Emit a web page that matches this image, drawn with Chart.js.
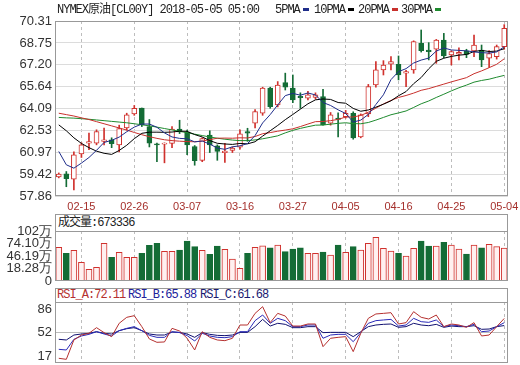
<!DOCTYPE html>
<html>
<head>
<meta charset="utf-8">
<script src="https://cdn.jsdelivr.net/npm/chart.js@4.4.1/dist/chart.umd.min.js"></script>
<style>
body{margin:0;background:#fff;}
#wrap{position:relative;width:520px;height:365px;overflow:hidden;background:#fff;}
canvas{position:absolute;left:0;}
.t{position:absolute;white-space:nowrap;font-size:12px;line-height:14px;font-family:"Liberation Mono","Noto Sans CJK SC",monospace;letter-spacing:-1px;color:#222;}
.lg{letter-spacing:-1px;}
.box{position:absolute;left:55px;width:453px;border:1px solid #999;box-sizing:border-box;background:#fff;}
.dash{display:inline-block;width:6px;height:3px;vertical-align:middle;margin-left:3px;}
</style>
</head>
<body>
<div id="wrap">
  <canvas id="main" width="520" height="215" style="top:0"></canvas>
  <canvas id="vol" width="520" height="80" style="top:205px"></canvas>
  <canvas id="rsi" width="520" height="83" style="top:282px"></canvas>

  <div class="t" style="left:57px;top:3px">NYMEX原油[CL00Y] 2018-05-05 05:00</div>
  <div class="t lg" style="left:275px;top:3px">5PMA<span class="dash" style="background:#1f2d8a"></span></div>
  <div class="t lg" style="left:314px;top:3px">10PMA<span class="dash" style="background:#000"></span></div>
  <div class="t lg" style="left:358px;top:3px">20PMA<span class="dash" style="background:#c8302c"></span></div>
  <div class="t lg" style="left:401px;top:3px">30PMA<span class="dash" style="background:#1e8a2e"></span></div>

  <div class="box" style="top:214px;height:18px">
    <span class="t" style="left:2px;top:1px">成交量:673336</span>
  </div>
  <div class="box" style="top:288px;height:15px">
    <span class="t" style="left:1px;top:-1px;color:#b5302f">RSI_A:72.11</span>
    <span class="t" style="left:72px;top:-1px;color:#20209a">RSI_B:65.88</span>
    <span class="t" style="left:144px;top:-1px;color:#1a1a70">RSI_C:61.68</span>
  </div>
</div>
<script>
// trading days 02-12 .. 05-04
const dates = ['02-12','02-13','02-14','02-15','02-16','02-19','02-20','02-21','02-22','02-23','02-26','02-27','02-28',
  '03-01','03-02','03-05','03-06','03-07','03-08','03-09','03-12','03-13','03-14','03-15','03-16','03-19','03-20','03-21','03-22','03-23','03-26','03-27','03-28','03-29','03-30',
  '04-02','04-03','04-04','04-05','04-06','04-09','04-10','04-11','04-12','04-13','04-16','04-17','04-18','04-19','04-20','04-23','04-24','04-25','04-26','04-27','04-30',
  '05-01','05-02','05-03','05-04'];
const tickDates = ['02-15','02-26','03-07','03-16','03-27','04-05','04-16','04-25','05-04'];

const opens  = [59.21,59.44,59.06,60.86,61.62,61.62,61.75,61.85,61.50,62.70,63.70,64.12,62.80,61.57,61.55,61.60,62.62,62.40,61.38,60.40,
  62.20,61.43,60.95,61.10,61.34,62.45,63.04,63.75,65.53,64.34,65.93,65.53,64.95,64.82,64.88,64.94,63.04,63.40,63.50,63.75,
  62.07,63.70,65.76,66.83,67.23,67.23,66.59,66.83,68.72,68.25,68.30,68.96,67.89,67.95,68.18,68.18,68.25,67.66,67.78,68.49];
const highs  = [59.50,59.60,61.00,61.65,62.33,62.57,62.69,62.00,62.90,63.75,64.30,64.12,63.30,61.62,61.64,62.80,63.25,62.55,61.45,62.00,
  62.50,61.50,61.60,61.35,62.57,62.68,64.00,65.60,65.60,66.00,66.60,66.47,65.20,65.30,65.20,65.45,63.80,63.77,63.95,63.85,
  63.70,65.80,67.42,67.49,67.78,67.82,66.80,68.90,69.67,68.77,69.00,69.43,68.20,68.40,68.30,69.30,68.60,68.20,68.60,70.05];
const lows   = [59.15,58.52,58.30,60.60,61.15,61.50,61.50,61.30,61.00,62.55,63.60,62.80,61.35,60.31,60.22,61.30,62.30,60.80,60.05,60.30,
  60.95,60.40,60.25,60.95,61.20,61.75,62.70,63.60,64.10,64.20,65.40,64.50,64.10,64.70,64.75,62.90,62.90,62.07,63.40,61.90,
  62.00,63.50,65.60,66.47,66.83,66.12,65.64,66.59,68.10,67.54,67.30,67.70,67.18,67.54,67.70,67.78,67.06,67.00,67.60,68.30];
const closes = [59.42,59.09,60.79,61.50,61.74,62.45,61.85,61.58,62.65,63.63,64.10,62.92,61.62,61.50,61.62,62.62,62.42,61.50,60.38,61.95,
  61.50,61.03,61.05,61.27,62.28,62.33,63.87,65.53,64.22,65.76,65.60,64.70,64.85,65.05,65.05,62.92,63.63,63.30,63.75,62.00,
  63.63,65.64,66.83,67.18,67.42,66.47,66.71,68.84,68.20,68.13,68.96,67.82,68.13,68.08,67.94,68.60,67.54,68.00,68.49,69.79];

const ma5  = [61.03,60.08,59.84,60.20,60.60,61.11,61.67,61.82,62.05,62.43,62.76,62.98,62.98,62.75,62.35,62.06,61.96,61.93,61.71,61.77,
  61.55,61.27,61.18,61.36,61.43,61.59,62.16,63.06,63.65,64.34,65.00,65.16,65.03,65.19,65.05,64.51,64.30,63.99,63.73,63.12,
  63.26,63.66,64.37,65.06,66.14,66.71,66.92,67.32,67.53,67.67,68.17,68.39,68.25,68.22,68.19,68.11,68.06,68.03,68.11,68.48];
const ma10 = [62.92,62.50,62.00,61.60,61.30,61.05,60.90,60.82,61.10,61.47,61.94,62.32,62.40,62.40,62.39,62.41,62.47,62.46,62.23,62.06,
  61.80,61.61,61.56,61.53,61.60,61.57,61.72,62.12,62.50,62.88,63.29,63.66,64.04,64.42,64.70,64.76,64.73,64.51,64.46,64.09,
  63.89,63.98,64.18,64.39,64.63,64.99,65.29,65.85,66.29,66.91,67.44,67.66,67.79,67.88,67.93,68.14,68.22,68.14,68.17,68.34];
const ma20 = [63.75,63.65,63.55,63.42,63.30,63.15,63.00,62.85,62.70,62.55,62.38,62.22,62.08,61.96,61.86,61.80,61.76,61.73,61.72,61.77,
  61.87,61.97,61.98,61.97,62.00,61.99,62.09,62.29,62.37,62.47,62.55,62.64,62.80,62.98,63.15,63.16,63.22,63.31,63.48,63.48,
  63.59,63.82,64.11,64.41,64.66,64.87,65.01,65.18,65.38,65.50,65.66,65.82,65.98,66.13,66.28,66.56,66.76,66.99,67.23,67.62];
const ma30 = [63.45,63.42,63.40,63.36,63.32,63.27,63.22,63.17,63.12,63.07,63.00,62.93,62.85,62.76,62.66,62.56,62.46,62.36,62.26,62.16,
  62.06,61.97,61.90,61.84,61.80,61.80,61.85,61.93,62.03,62.14,62.35,62.53,62.67,62.79,62.90,62.91,62.97,63.03,63.07,63.01,
  63.00,63.09,63.26,63.45,63.64,63.77,63.91,64.16,64.42,64.62,64.87,65.10,65.34,65.56,65.75,65.96,66.08,66.17,66.31,66.44];
const priceTicks = [57.86,59.42,60.97,62.53,64.09,65.64,67.20,68.75,70.31];

// volume in 万
const volumes = [68.7,56.5,62.6,38.1,23.9,27.9,76.9,48.3,58.5,48.3,48.3,56.5,72.8,76.9,60.6,60.6,63.2,81.6,70.0,62.6,
  54.5,71.4,64.7,44.9,25.9,56.5,68.7,72.0,67.9,73.4,59.8,65.3,67.9,56.5,56.5,59.2,53.0,73.4,58.5,70.0,
  63.2,76.9,89.1,66.7,61.2,56.5,51.0,66.7,81.6,71.4,71.4,78.9,73.4,65.3,55.1,73.4,67.9,74.9,70.0,67.33];
const volTickValues = [0,25.5,51,76.5,102];
const volTickLabels = ['0','18.28万','46.19万','74.10万','102万'];

const rsiA = [13.6,12.1,40.5,47.8,50.3,58.6,51.3,45.4,65.0,73.8,76.2,60.1,42.0,37.1,37.6,57.6,53.7,43.0,25.8,52.7,
  44.4,40.5,39.5,43.0,62.5,62.5,79.6,89.4,66.0,79.6,75.7,61.0,61.0,64.0,64.0,30.7,43.0,44.4,45.4,23.4,
  50.3,72.3,78.7,79.6,80.6,64.0,66.0,82.1,73.8,71.3,77.2,60.1,64.0,62.5,59.1,66.0,46.4,47.8,60.1,72.11];
const rsiB = [26.8,25.8,41.5,46.4,48.8,52.7,49.3,46.4,54.2,57.6,60.1,54.2,47.3,44.4,44.4,52.7,51.3,46.9,39.0,50.3,
  46.4,44.4,43.9,45.4,52.7,52.7,68.9,77.2,65.0,72.3,68.9,60.1,60.1,62.5,62.5,43.0,47.8,48.8,48.8,38.0,
  51.3,65.0,68.9,69.9,70.8,61.0,62.5,72.3,67.4,66.4,69.9,60.1,62.5,61.5,60.1,63.5,52.7,53.7,60.1,65.88];
const rsiC = [41.5,40.5,47.8,49.3,50.3,52.7,50.3,49.3,54.2,57.1,58.6,54.2,49.3,47.8,47.8,52.2,51.7,49.3,44.4,51.3,
  48.8,47.3,46.9,47.8,51.7,51.7,60.1,70.8,61.0,65.0,63.5,58.6,58.6,60.1,60.1,51.3,51.7,51.7,51.7,45.4,
  52.7,60.1,62.5,63.5,64.0,59.1,60.1,65.0,62.5,61.5,63.5,59.1,61.0,60.1,60.1,61.5,56.2,56.6,60.1,61.68];
const rsiTicks = [17,52,86];

const RED = '#d0312d', GREEN = '#146c36', UPFILL = '#ffffff', VOLFILL = '#fff0f0';
const up = opens.map((o, i) => closes[i] >= o);
const candleColor = up.map(u => u ? RED : GREEN);
const showTick = i => tickDates.includes(dates[i]);

const frame = {
  id: 'frame',
  afterDraw(c) {
    const a = c.chartArea, ctx = c.ctx;
    ctx.save();
    ctx.strokeStyle = '#999';
    ctx.lineWidth = 1;
    ctx.strokeRect(Math.round(a.left) + 0.5, Math.round(a.top) + 0.5, Math.round(a.right - a.left) - 1, Math.round(a.bottom - a.top) - 1);
    ctx.restore();
  }
};

const common = {
  responsive: false, animation: false, devicePixelRatio: 1,
  plugins: { legend: { display: false }, tooltip: { enabled: false } }
};

function xScale(withLabels) {
  return {
    type: 'category', offset: true,
    grid: { offset: false, drawTicks: false, color: '#bdbdbd', lineWidth: c => showTick(c.index) ? 1 : 0 },
    border: { display: false, dash: [3, 3] },
    ticks: {
      display: withLabels, autoSkip: false, maxRotation: 0, padding: 4,
      color: '#a5302c', font: { family: 'Liberation Sans', size: 11 },
      callback: (v, i) => showTick(i) ? dates[i] : ''
    },
    afterFit: s => { s.height = withLabels ? 19 : 0; s.paddingLeft = 0; s.paddingRight = 0; }
  };
}

function yScale(min, max, tickVals, labelFn, gridOpts) {
  return {
    type: 'linear', min: min, max: max,
    afterBuildTicks: s => { s.ticks = tickVals.map(v => ({ value: v })); },
    ticks: { autoSkip: false, padding: 3, color: '#333', font: { family: 'Liberation Sans', size: 13 }, callback: labelFn },
    grid: Object.assign({ drawTicks: false }, gridOpts),
    border: { display: false },
    afterFit: s => { s.width = 55; s.paddingTop = 0; s.paddingBottom = 0; }
  };
}

new Chart(document.getElementById('main'), {
  type: 'bar',
  data: {
    labels: dates,
    datasets: [
      { type: 'line', data: ma5,  borderColor: '#1f2d8a', borderWidth: 1, pointRadius: 0, fill: false, order: 0 },
      { type: 'line', data: ma10, borderColor: '#000000', borderWidth: 1, pointRadius: 0, fill: false, order: 0 },
      { type: 'line', data: ma20, borderColor: '#c8302c', borderWidth: 1, pointRadius: 0, fill: false, order: 0 },
      { type: 'line', data: ma30, borderColor: '#1e8a2e', borderWidth: 1, pointRadius: 0, fill: false, order: 0 },
      { data: opens.map((o, i) => [o, closes[i]]), backgroundColor: up.map(u => u ? UPFILL : GREEN),
        borderColor: candleColor, borderWidth: 1, borderSkipped: false, barThickness: 5, minBarLength: 1, grouped: false, order: 1 },
      { data: lows.map((l, i) => [l, highs[i]]), backgroundColor: candleColor, borderWidth: 0, barThickness: 1, grouped: false, order: 2 }
    ]
  },
  options: Object.assign({}, common, {
    layout: { padding: { top: 21, right: 12, left: 0, bottom: 0 } },
    scales: {
      x: xScale(true),
      y: yScale(57.86, 70.31, priceTicks, v => v.toFixed(2), { color: '#dcdcdc' })
    }
  }),
  plugins: [frame]
});

new Chart(document.getElementById('vol'), {
  type: 'bar',
  data: {
    labels: dates,
    datasets: [{ data: volumes, backgroundColor: up.map(u => u ? VOLFILL : GREEN), borderColor: candleColor,
      borderWidth: 1, barThickness: 6 }]
  },
  options: Object.assign({}, common, {
    layout: { padding: { top: 26, right: 12, left: 0, bottom: 4 } },
    scales: {
      x: xScale(false),
      y: yScale(0, 102, volTickValues, (v, i) => volTickLabels[i], { display: false })
    }
  }),
  plugins: [frame]
});

new Chart(document.getElementById('rsi'), {
  type: 'line',
  data: {
    labels: dates,
    datasets: [
      { data: rsiA, borderColor: '#b5302f', borderWidth: 1, pointRadius: 0, fill: false },
      { data: rsiB, borderColor: '#2a2ab8', borderWidth: 1, pointRadius: 0, fill: false },
      { data: rsiC, borderColor: '#101070', borderWidth: 1, pointRadius: 0, fill: false }
    ]
  },
  options: Object.assign({}, common, {
    layout: { padding: { top: 20, right: 12, left: 0, bottom: 2 } },
    scales: {
      x: xScale(false),
      y: yScale(6.7, 96.3, rsiTicks, v => String(v), { color: '#bbb', lineWidth: c => (c.tick && c.tick.value === 52) ? 1 : 0 })
    }
  }),
  plugins: [frame]
});
</script>
</body>
</html>
